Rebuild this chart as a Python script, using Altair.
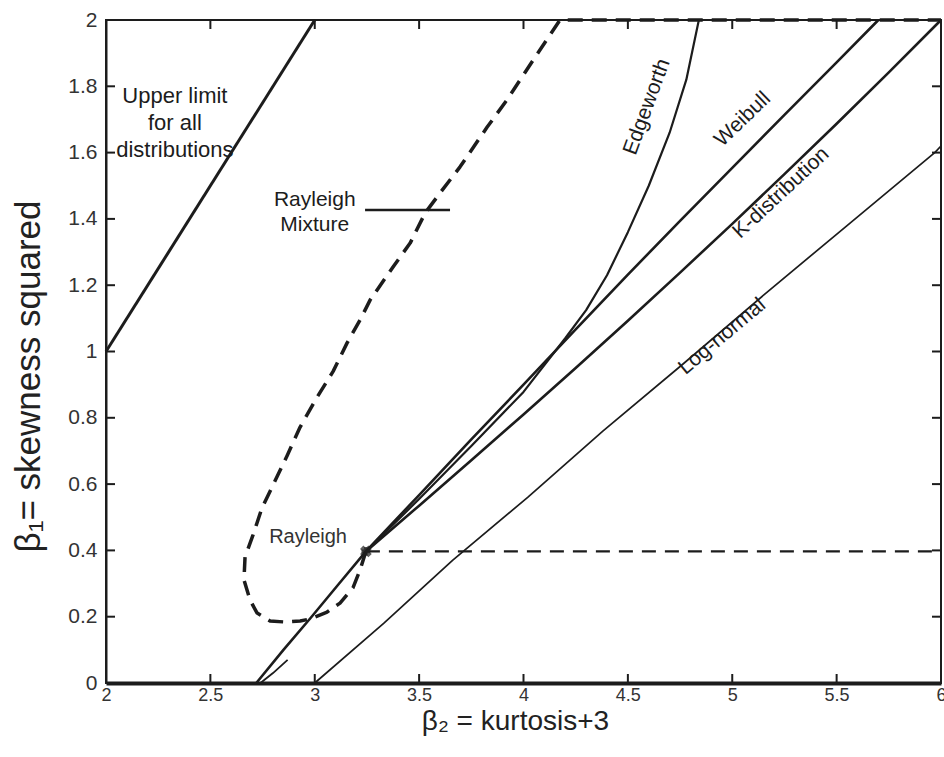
import altair as alt
import pandas as pd

# ---------------- data ----------------
x_ticks = [2, 2.5, 3, 3.5, 4, 4.5, 5, 5.5, 6]
y_ticks = [0, 0.2, 0.4, 0.6, 0.8, 1.0, 1.2, 1.4, 1.6, 1.8, 2.0]

# curves: x = beta2 (kurtosis+3), y = beta1 (skewness squared)
upper_x = [2.0, 3.0]
upper_y = [1.0, 2.0]

weibull_x = [2.72, 2.85, 2.98, 3.11, 3.245, 3.5, 3.75, 4.0, 4.25, 4.5, 4.75, 5.0, 5.25, 5.5, 5.70]
weibull_y = [0.0, 0.10, 0.196, 0.295, 0.397, 0.567, 0.735, 0.90, 1.067, 1.232, 1.394, 1.554, 1.714, 1.872, 2.0]

weibull_b_x = [2.74, 2.80, 2.87]
weibull_b_y = [0.0, 0.03, 0.07]

kdist_x = [3.245, 3.5, 3.75, 4.0, 4.25, 4.5, 4.75, 5.0, 5.25, 5.5, 5.75, 6.0]
kdist_y = [0.397, 0.535, 0.672, 0.81, 0.95, 1.093, 1.238, 1.385, 1.535, 1.687, 1.842, 2.0]

edge_x = [3.245, 3.5, 3.75, 4.0, 4.2, 4.3, 4.4, 4.5, 4.6, 4.7, 4.78, 4.84]
edge_y = [0.397, 0.555, 0.715, 0.878, 1.04, 1.125, 1.23, 1.36, 1.50, 1.66, 1.82, 2.0]

logn_x = [3.0, 3.33, 3.66, 4.02, 4.38, 4.76, 5.15, 5.55, 5.97, 6.0]
logn_y = [0.0, 0.18, 0.37, 0.56, 0.76, 0.96, 1.17, 1.38, 1.60, 1.62]

mix_x = [3.245, 3.217, 3.183, 3.121, 3.059, 2.977, 2.93, 2.858, 2.786, 2.724, 2.69, 2.661,
         2.666, 2.704, 2.747, 2.80, 2.867, 2.93, 3.011, 3.088, 3.155, 3.217, 3.265, 3.375,
         3.457, 3.529, 3.60, 3.696, 3.826, 3.921, 4.046, 4.175, 6.0]
mix_y = [0.397, 0.341, 0.287, 0.241, 0.214, 0.193, 0.187, 0.184, 0.187, 0.211, 0.25, 0.311,
         0.38, 0.446, 0.528, 0.597, 0.685, 0.772, 0.862, 0.94, 1.026, 1.095, 1.155, 1.255,
         1.327, 1.418, 1.478, 1.557, 1.677, 1.759, 1.879, 2.0, 2.0]

rayh_x = [3.245, 6.0]
rayh_y = [0.397, 0.397]

lead_x = [3.241, 3.648]
lead_y = [1.427, 1.427]

rayleigh_pt_x = [3.245]
rayleigh_pt_y = [0.397]

# ---------------- chart ----------------
FONT = "Liberation Sans"
INK = "#1c1c1c"

xscale = alt.Scale(domain=[2, 6], nice=False, zero=False)
yscale = alt.Scale(domain=[0, 2], nice=False, zero=False)

xaxis = alt.Axis(values=x_ticks, format="~g", ticks=False, grid=False,
                 domainWidth=4, domainColor=INK, labelFontSize=18, labelColor="#333",
                 labelPadding=3, labelFlush=False, labelOverlap=False, labelFont=FONT,
                 title="β₂ = kurtosis+3", titleFontSize=28, titleFontWeight="normal",
                 titleColor="#222", titleFont=FONT, titleX=409, titleY=24,
                 titleBaseline="top", titleAlign="center")
yaxis = alt.Axis(values=y_ticks, format="~g", ticks=False, grid=False,
                 domainWidth=2, domainColor=INK, labelFontSize=21, labelColor="#333",
                 labelPadding=9, labelFlush=False, labelOverlap=False, labelFont=FONT,
                 title="β₁= skewness squared", titleFontSize=35, titleFontWeight="normal",
                 titleColor="#222", titleFont=FONT, titleX=-60, titleY=356,
                 titleAngle=270, titleAlign="center", titleBaseline="bottom")

X = alt.X("x:Q", scale=xscale, axis=xaxis)
Y = alt.Y("y:Q", scale=yscale, axis=yaxis)


def line_layer(xs, ys, width, dash=None):
    df = pd.DataFrame({"x": xs, "y": ys, "i": list(range(len(xs)))})
    kw = dict(color=INK, strokeWidth=width, strokeCap="butt", strokeJoin="round")
    if dash:
        kw["strokeDash"] = dash
    return alt.Chart(df).mark_line(**kw).encode(x=X, y=Y, order="i:Q")


tx = pd.DataFrame({"x": x_ticks})
ty = pd.DataFrame({"y": y_ticks})
ticks = [
    alt.Chart(tx).mark_rule(color=INK, strokeWidth=2).encode(x=X, y=alt.value(663), y2=alt.value(654)),
    alt.Chart(tx).mark_rule(color=INK, strokeWidth=2).encode(x=X, y=alt.value(0), y2=alt.value(9)),
    alt.Chart(ty).mark_rule(color=INK, strokeWidth=2).encode(y=Y, x=alt.value(0), x2=alt.value(9)),
    alt.Chart(ty).mark_rule(color=INK, strokeWidth=2).encode(y=Y, x=alt.value(835), x2=alt.value(826)),
]

lines = [
    line_layer(upper_x, upper_y, 3),
    line_layer(weibull_x, weibull_y, 2.6),
    line_layer(weibull_b_x, weibull_b_y, 1.8),
    line_layer(kdist_x, kdist_y, 2.6),
    line_layer(edge_x, edge_y, 2.2),
    line_layer(logn_x, logn_y, 1.7),
    line_layer(mix_x, mix_y, 3.5, [15, 9]),
    line_layer(rayh_x, rayh_y, 2.4, [14, 9]),
    line_layer(lead_x, lead_y, 2.4),
]

pt_df = pd.DataFrame({"x": rayleigh_pt_x, "y": rayleigh_pt_y})
star = [
    alt.Chart(pt_df).mark_point(shape="cross", filled=True, color=INK, size=140, angle=45).encode(x=X, y=Y),
    alt.Chart(pt_df).mark_point(shape="cross", filled=True, color=INK, size=80).encode(x=X, y=Y),
]


def label(text, x, y, size, angle=0, color="#1c1c1c", line_height=None):
    df = pd.DataFrame({"x": [x], "y": [y], "t": [text]})
    kw = dict(font=FONT, fontSize=size, color=color, align="center", baseline="middle")
    if angle:
        kw["angle"] = angle
    if line_height:
        kw["lineBreak"] = "\n"
        kw["lineHeight"] = line_height
    return alt.Chart(df).mark_text(**kw).encode(x=X, y=Y, text="t:N")


texts = [
    label("Upper limit\nfor all\ndistributions", 2.33, 1.772, 22, line_height=27),
    label("Rayleigh\nMixture", 3.0, 1.456, 21, line_height=25),
    label("Rayleigh", 2.968, 0.440, 20, color="#333"),
    label("Edgeworth", 4.592, 1.738, 21, angle=290),
    label("Weibull", 5.05, 1.70, 21, angle=316),
    label("K-distribution", 5.234, 1.478, 21, angle=317),
    label("Log-normal", 4.952, 1.045, 21, angle=320),
]

chart = alt.layer(*ticks, *lines, *star, *texts).properties(
    width=835, height=663,
    padding={"left": 106, "top": 20, "right": 3, "bottom": 74},
    autosize="none",
    background="white",
).configure_view(stroke=INK, strokeWidth=2)

chart.save("out.html", embed_options={"renderer": "svg", "actions": False})
